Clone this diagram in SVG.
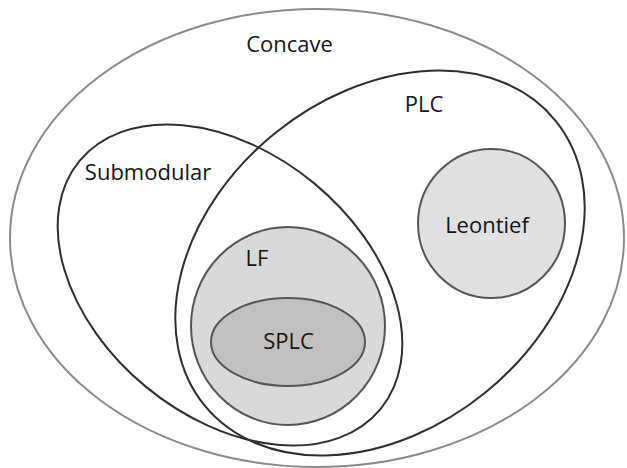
<svg xmlns="http://www.w3.org/2000/svg" width="627" height="468" viewBox="0 0 627 468">
<style>
.lbl{font-family:"Open Sans","Liberation Sans",sans-serif;font-size:22px;fill:#141414;text-anchor:middle}
.set{fill:none;stroke:#2e2e2e;stroke-width:2}
.outer{fill:none;stroke:#8a8a8a;stroke-width:2}
.inner{stroke:#555;stroke-width:2}
</style>
<rect width="627" height="468" fill="#fff"/>
<g id="concave">
<ellipse class="outer" cx="317" cy="238" rx="307" ry="229"/>
<text class="lbl" x="289.5" y="52">Concave</text>
</g>
<g id="submodular">
<ellipse class="set" cx="230" cy="285" rx="195" ry="132" transform="rotate(39.5 230 285)"/>
<text class="lbl" x="148" y="180">Submodular</text>
</g>
<g id="plc">
<ellipse class="set" cx="380" cy="263" rx="226" ry="167" transform="rotate(-39 380 263)"/>
<text class="lbl" x="424" y="112">PLC</text>
</g>
<g id="lf">
<ellipse class="inner" fill="#d9d9d9" cx="288" cy="326" rx="97" ry="99"/>
<text class="lbl" x="257" y="266">LF</text>
</g>
<g id="splc">
<ellipse class="inner" fill="#c0c0c0" cx="288" cy="342" rx="77" ry="44"/>
<text class="lbl" x="288.5" y="349">SPLC</text>
</g>
<g id="leontief">
<ellipse class="inner" fill="#e0e0e0" cx="491.5" cy="223.5" rx="73.5" ry="74.5"/>
<text class="lbl" x="487" y="233">Leontief</text>
</g>
<g id="connectors"/>
</svg>
